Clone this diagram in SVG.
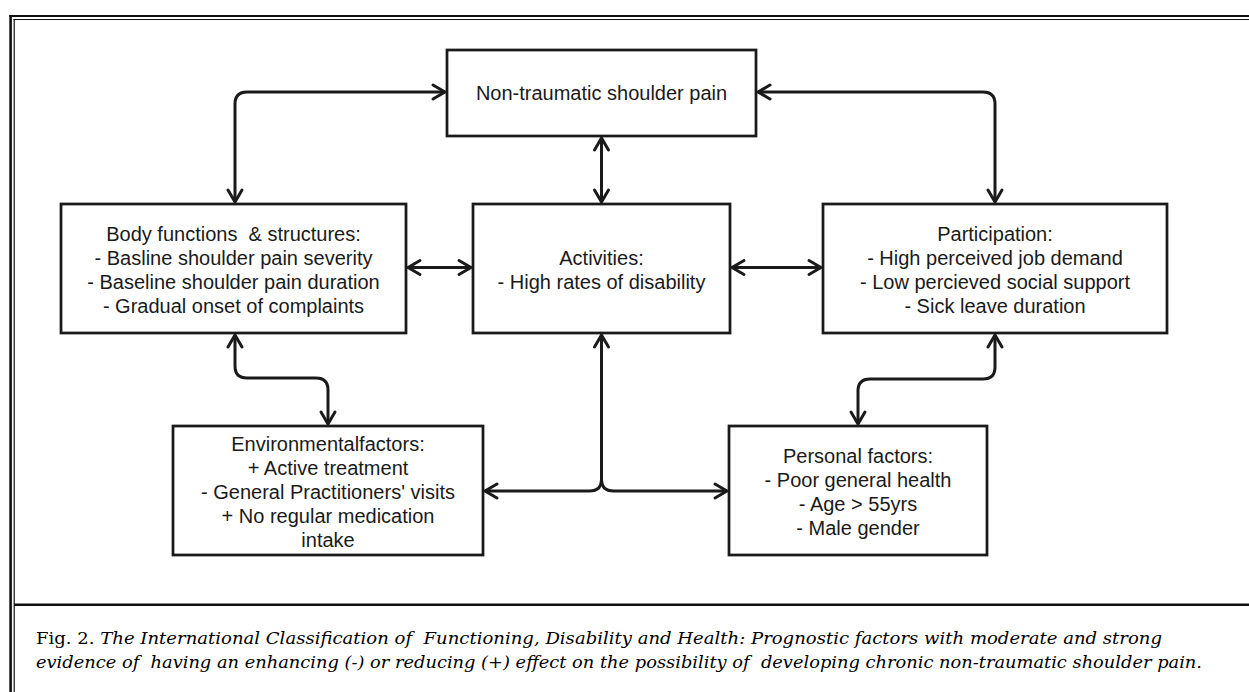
<svg xmlns="http://www.w3.org/2000/svg" width="1249" height="692" viewBox="0 0 1249 692">
<style>
.frame{stroke:#111;fill:none}
.box{fill:#fff;stroke:#1a1a1a;stroke-width:2.75}
.lbl{font-family:"Liberation Sans",Arial,Helvetica,sans-serif;font-size:20px;fill:#1a1a1a;text-anchor:middle}
.con{fill:none;stroke:#1a1a1a;stroke-width:3}
.cap{font-family:"DejaVu Serif","Liberation Serif",serif;font-size:17px;fill:#000}
</style>
<defs>
<marker id="ah" markerUnits="userSpaceOnUse" markerWidth="20" markerHeight="20" viewBox="-15 -10 20 20" refX="0" refY="0" orient="auto-start-reverse" overflow="visible">
<path d="M-12,-7 L0,0 L-12,7" fill="none" stroke="#1a1a1a" stroke-width="3" stroke-linejoin="round" stroke-linecap="round"/>
</marker>
</defs>
<rect x="0" y="0" width="1249" height="692" fill="#fff"/>
<g id="frame">
<line class="frame" x1="9.3" y1="16" x2="1249" y2="16" stroke-width="2.2"/>
<line class="frame" x1="10.6" y1="15" x2="10.6" y2="692" stroke-width="2.6"/>
<line class="frame" x1="13.5" y1="19.5" x2="1249" y2="19.5" stroke-width="1.2"/>
<line class="frame" x1="14.2" y1="19" x2="14.2" y2="692" stroke-width="1.2"/>
<line class="frame" x1="14" y1="604.7" x2="1249" y2="604.7" stroke-width="2.6"/>
</g>
<g id="connectors">
<path class="con" d="M445,92 H247 Q235,92 235,104 V202" marker-start="url(#ah)" marker-end="url(#ah)"/>
<path class="con" d="M758,92 H983 Q995,92 995,104 V202" marker-start="url(#ah)" marker-end="url(#ah)"/>
<path class="con" d="M601.5,138 V202" marker-start="url(#ah)" marker-end="url(#ah)"/>
<path class="con" d="M408,267.5 H471" marker-start="url(#ah)" marker-end="url(#ah)"/>
<path class="con" d="M732,267.5 H821" marker-start="url(#ah)" marker-end="url(#ah)"/>
<path class="con" d="M235,335 V366 Q235,378 247,378 H316 Q328,378 328,390 V424" marker-start="url(#ah)" marker-end="url(#ah)"/>
<path class="con" d="M995,335 V367 Q995,379 983,379 H870 Q858,379 858,391 V424" marker-start="url(#ah)" marker-end="url(#ah)"/>
<path class="con" d="M601.5,335 V479 Q601.5,491 589.5,491 H485" marker-start="url(#ah)" marker-end="url(#ah)"/>
<path class="con" d="M601.5,479 Q601.5,491 613.5,491 H727" marker-end="url(#ah)"/>
</g>
<g id="node-top">
<rect class="box" x="447" y="50" width="309" height="86"/>
<text class="lbl" x="601.5" y="100">Non-traumatic shoulder pain</text>
</g>
<g id="node-body">
<rect class="box" x="61" y="204" width="345" height="129"/>
<text class="lbl" x="233.5" y="240.5">Body functions&#160; &amp; structures:</text>
<text class="lbl" x="233.5" y="264.5">- Basline shoulder pain severity</text>
<text class="lbl" x="233.5" y="288.5">- Baseline shoulder pain duration</text>
<text class="lbl" x="233.5" y="312.5">- Gradual onset of complaints</text>
</g>
<g id="node-activities">
<rect class="box" x="473" y="204" width="257" height="129"/>
<text class="lbl" x="601.5" y="265">Activities:</text>
<text class="lbl" x="601.5" y="289">- High rates of disability</text>
</g>
<g id="node-participation">
<rect class="box" x="823" y="204" width="344" height="129"/>
<text class="lbl" x="995" y="240.5">Participation:</text>
<text class="lbl" x="995" y="264.5">- High perceived job demand</text>
<text class="lbl" x="995" y="288.5">- Low percieved social support</text>
<text class="lbl" x="995" y="312.5">- Sick leave duration</text>
</g>
<g id="node-environmental">
<rect class="box" x="173" y="426" width="310" height="129"/>
<text class="lbl" x="328" y="450.5">Environmentalfactors:</text>
<text class="lbl" x="328" y="474.5">+ Active treatment</text>
<text class="lbl" x="328" y="498.5">- General Practitioners' visits</text>
<text class="lbl" x="328" y="522.5">+ No regular medication</text>
<text class="lbl" x="328" y="546.5">intake</text>
</g>
<g id="node-personal">
<rect class="box" x="729" y="426" width="258" height="129"/>
<text class="lbl" x="858" y="463">Personal factors:</text>
<text class="lbl" x="858" y="487">- Poor general health</text>
<text class="lbl" x="858" y="511">- Age &gt; 55yrs</text>
<text class="lbl" x="858" y="535">- Male gender</text>
</g>
<g id="caption">
<text class="cap" x="36" y="644" textLength="1126" lengthAdjust="spacingAndGlyphs">Fig. 2. <tspan font-style="italic">The International Classification of&#160; Functioning, Disability and Health: Prognostic factors with moderate and strong</tspan></text>
<text class="cap" x="36" y="668" font-style="italic" textLength="1166" lengthAdjust="spacingAndGlyphs">evidence of&#160; having an enhancing (-) or reducing (+) effect on the possibility of&#160; developing chronic non-traumatic shoulder pain.</text>
</g>
</svg>
